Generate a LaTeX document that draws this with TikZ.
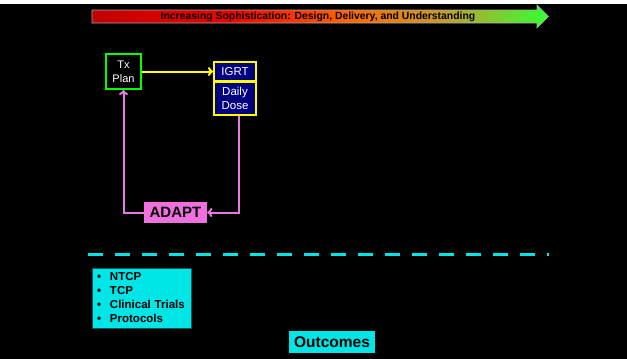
\documentclass[tikz,border=0pt]{standalone}
\usepackage{fontspec}
\setmainfont{Liberation Sans}
\usepackage{xcolor}
\usepackage{tikz}
\usetikzlibrary{arrows.meta}
\definecolor{darkred}{HTML}{C00000}
\definecolor{brightred}{HTML}{F00000}
\definecolor{orng}{HTML}{FF6600}
\definecolor{olv}{HTML}{C0A030}
\definecolor{grn}{HTML}{33FF33}
\definecolor{plangreen}{HTML}{00FF00}
\definecolor{yel}{HTML}{FFFF00}
\definecolor{navy}{HTML}{000080}
\definecolor{pinkfill}{HTML}{F070E0}
\definecolor{pinkline}{HTML}{E87AE8}
\definecolor{cyanbox}{HTML}{00E5E5}
\pgfdeclarehorizontalshading{sophist}{100bp}{color(0bp)=(darkred); color(25bp)=(darkred); color(40bp)=(brightred); color(53bp)=(orng); color(64bp)=(olv); color(75bp)=(grn); color(100bp)=(grn)}
\tikzset{
  banner/.style={text=black, font=\bfseries\fontsize{10.4}{12}\selectfont, inner sep=0pt},
  planbox/.style={draw=plangreen, line width=2pt, fill=black, text=white, align=center,
    font=\fontsize{11}{14}\selectfont, minimum width=35pt, minimum height=35pt, inner sep=0pt},
  dosebox/.style={draw=yel, line width=2pt, fill=navy, text=white, align=center,
    font=\fontsize{11.5}{14}\selectfont, minimum width=42pt, inner sep=0pt},
  adaptbox/.style={fill=pinkfill, text=black, font=\bfseries\fontsize{15}{17}\selectfont,
    minimum width=63pt, minimum height=21pt, inner sep=0pt},
  listbox/.style={fill=cyanbox, draw=black!60!cyanbox, line width=0.5pt, text=black, align=left,
    font=\bfseries\fontsize{11.5}{14}\selectfont, minimum width=99pt, minimum height=60pt,
    inner sep=0pt, text width=89pt},
  outbox/.style={fill=cyanbox, text=black, font=\bfseries\fontsize{15.5}{17}\selectfont,
    minimum width=86pt, minimum height=22pt, inner sep=0pt},
  yarrow/.style={draw=yel, line width=2pt, -{To[length=5pt,width=9pt]}},
  parrow/.style={draw=pinkline, line width=2pt, -{To[length=5pt,width=9pt]}},
  dashline/.style={draw=cyanbox, line width=3pt, dash pattern=on 15pt off 12pt}
}
\newcommand{\blt}{\makebox[13pt][l]{\textbullet}}

\begin{document}
\begin{tikzpicture}[x=1pt,y=-1pt]
\useasboundingbox (0,0) rectangle (627,359);
\fill[white] (0,0) rectangle (627,359);
\fill[black] (0,4) rectangle (627,359);
% sophistication arrow
\path[shading=sophist, draw=black!35, line width=0.6pt]
  (92,10) -- (537,10) -- (537,5) -- (548.5,16.5) -- (537,28) -- (537,23) -- (92,23) -- cycle;
\node[banner] (title) at (318,17) {Increasing Sophistication: Design, Delivery, and Understanding};
% loop
\node[planbox] (plan) at (123.5,71.5) {Tx\\Plan};
\node[dosebox, minimum height=19pt] (igrt) at (235,71.5) {IGRT};
\node[dosebox, minimum height=33pt] (dose) at (235,98.5) {Daily\\Dose};
\node[adaptbox] (adapt) at (175.5,212.5) {ADAPT};
\draw[yarrow] (plan) -- (igrt);
\draw[parrow] ([xshift=4pt]dose.south) |- (adapt.east);
\draw[parrow] (adapt.west) -| (plan.south);
% divider
\coordinate (dashL) at (88,254);
\coordinate (dashR) at (549,254);
\draw[dashline] (dashL) -- (dashR);
% outcomes
\node[listbox] (list) at (141.5,298) {\blt NTCP\\\blt TCP\\\blt Clinical Trials\\\blt Protocols};
\node[outbox] (outc) at (332,342) {Outcomes};
\end{tikzpicture}
\end{document}
